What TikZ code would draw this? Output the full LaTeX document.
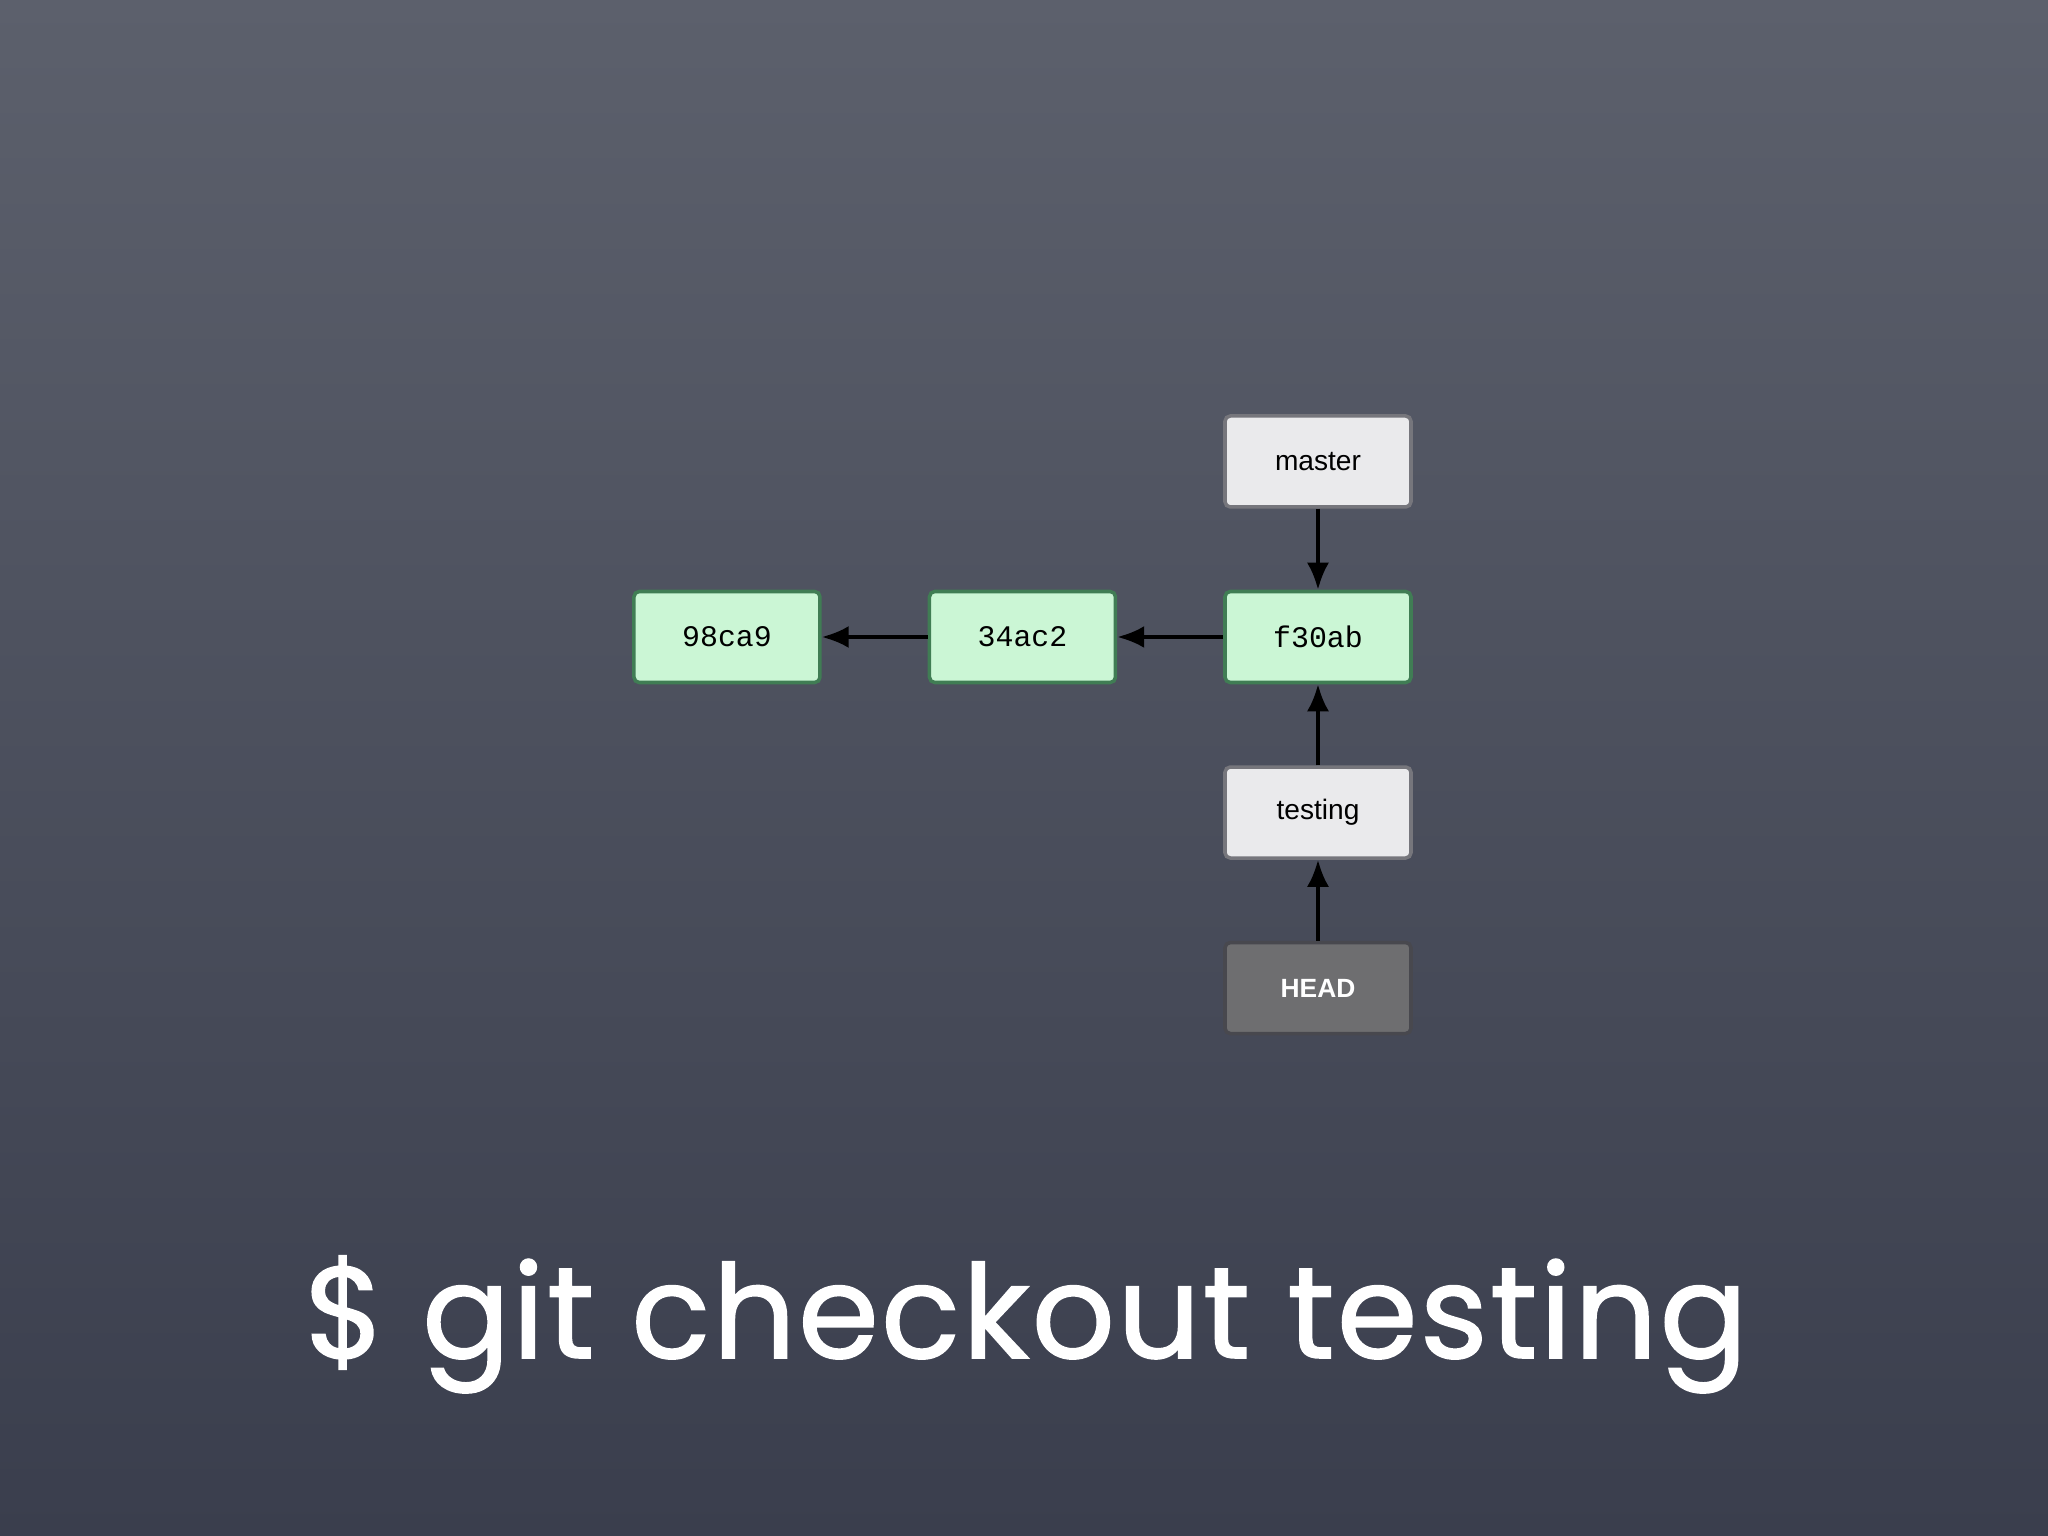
\documentclass[tikz,border=0pt]{standalone}
\usepackage{fontspec}
\setmainfont{Liberation Sans}
\newfontfamily\hashfont{Liberation Mono}
\newfontfamily\chalkfont[LetterSpace=1.8,FakeBold=1.2]{Poppins}
\usetikzlibrary{positioning,arrows.meta}
\definecolor{boardtop}{RGB}{92,96,108}
\definecolor{boardbottom}{RGB}{58,62,77}
\definecolor{commitfill}{RGB}{203,246,213}
\definecolor{commitline}{RGB}{64,125,84}
\definecolor{branchfill}{RGB}{234,234,236}
\definecolor{branchline}{RGB}{118,118,124}
\definecolor{headfill}{RGB}{110,110,112}
\definecolor{headline}{RGB}{72,72,78}
\tikzset{
  box/.style={minimum width=1.86cm, minimum height=0.91cm, inner sep=0pt,
    rounded corners=1.5pt, line width=1pt},
  commit/.style={box, draw=commitline, fill=commitfill,
    font=\hashfont\fontsize{8.5}{10}\selectfont},
  branch/.style={box, draw=branchline, fill=branchfill,
    font=\fontsize{8}{10}\selectfont},
  headbox/.style={box, draw=headline, fill=headfill, text=white,
    font=\bfseries\fontsize{7.5}{9}\selectfont},
  ptr/.style={line width=1.1pt, -{Latex[length=2.7mm,width=2.2mm]}}
}
\begin{document}
\begin{tikzpicture}[node distance=0.81cm and 1.06cm]
  % chalkboard
  \shade[top color=boardtop, bottom color=boardbottom] (0,0) rectangle (20.48,-15.36);
  \useasboundingbox (0,0) rectangle (20.48,-15.36);

  % commits
  \node[commit] (f30ab) at (13.18,-6.37) {f30ab};
  \node[commit, left=of f30ab] (34ac2) {34ac2};
  \node[commit, left=of 34ac2] (98ca9) {98ca9};

  % branches and HEAD
  \node[branch, above=of f30ab] (master) {master};
  \node[branch, below=of f30ab] (testing) {testing};
  \node[headbox, below=of testing] (head) {HEAD};

  \draw[ptr] (f30ab) -- (34ac2);
  \draw[ptr] (34ac2) -- (98ca9);
  \draw[ptr] (master) -- (f30ab);
  \draw[ptr] (testing) -- (f30ab);
  \draw[ptr] (head) -- (testing);

  % command
  \node[anchor=base, text=white, font=\chalkfont\fontsize{37}{44}\selectfont]
    (cmd) at (10.26,-13.58) {\$ git checkout testing};
\end{tikzpicture}
\end{document}
